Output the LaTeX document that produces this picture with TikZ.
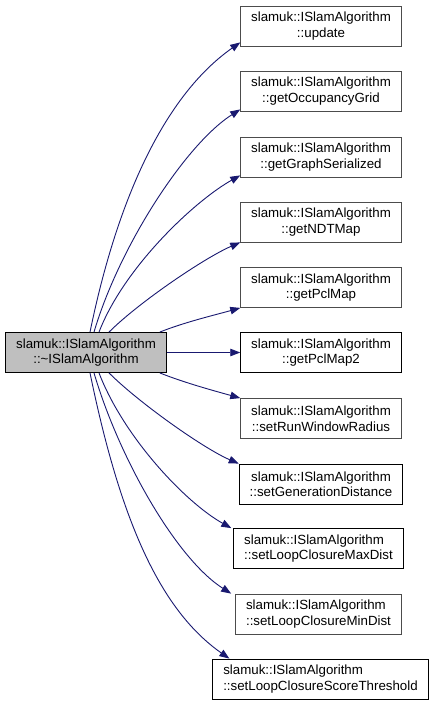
\documentclass[tikz,border=0pt]{standalone}
\usepackage{fontspec}
\setmainfont{Liberation Sans}
\usepackage{tikz}
\usetikzlibrary{arrows.meta}

\definecolor{edgeblue}{HTML}{191970}

\begin{document}
\begin{tikzpicture}[x=1pt,y=-1pt,
  member/.style={draw=black!70,fill=white,align=center,
    inner xsep=10.5pt,inner ysep=3pt,minimum height=40pt,line width=.8pt,
    font=\fontsize{13.3}{15.5}\selectfont},
  linked/.style={member,draw=black},
  current/.style={member,draw=black,fill=black!25},
  call/.style={-{Triangle[length=10pt,width=7.5pt]},draw=edgeblue,
    line width=.9pt}
]
\useasboundingbox (0,0) rectangle (432,705);

% The destructor and the members it calls.
\node[current] (dtor) at (86,352.5) {slamuk::ISlamAlgorithm\\::\textasciitilde ISlamAlgorithm};
\node[member] (update) at (321,26) {slamuk::ISlamAlgorithm\\::update};
\node[member] (occgrid) at (321,91) {slamuk::ISlamAlgorithm\\::getOccupancyGrid};
\node[member] (graphser) at (321,157) {slamuk::ISlamAlgorithm\\::getGraphSerialized};
\node[member] (ndtmap) at (321,222) {slamuk::ISlamAlgorithm\\::getNDTMap};
\node[member] (pclmap) at (321,287.5) {slamuk::ISlamAlgorithm\\::getPclMap};
\node[linked] (pclmap2) at (321,352.5) {slamuk::ISlamAlgorithm\\::getPclMap2};
\node[member] (runradius) at (321,418.5) {slamuk::ISlamAlgorithm\\::setRunWindowRadius};
\node[linked] (gendist) at (321,484) {slamuk::ISlamAlgorithm\\::setGenerationDistance};
\node[linked,align=left] (maxdist) at (318.5,548.5) {slamuk::ISlamAlgorithm\\::setLoopClosureMaxDist};
\node[member,align=left] (mindist) at (318.5,614) {slamuk::ISlamAlgorithm\\::setLoopClosureMinDist};
\node[linked,align=left] (scorethr) at (320.5,679) {slamuk::ISlamAlgorithm\\::setLoopClosureScoreThreshold};

% Calls leaving the top of the destructor box.
\draw[call] ([xshift=4pt]dtor.north) .. controls +(30,-146) and +(-70,49) .. ([yshift=4pt]update.south west);
\draw[call] ([xshift=8pt]dtor.north) .. controls +(25,-85) and +(-55,35) .. ([yshift=2pt]occgrid.south west);
\draw[call] ([xshift=13pt]dtor.north) .. controls +(25,-65) and +(-45,25) .. ([yshift=2pt]graphser.south west);
\draw[call] ([xshift=23pt]dtor.north) .. controls +(30,-30) and +(-35,15) .. (ndtmap.south west);
\draw[call] ([xshift=-7pt]dtor.north east) .. controls +(25,-10) and +(-25,7) .. (pclmap.south west);
\draw[call] (dtor.east) -- (pclmap2.west);

% Calls leaving the bottom, mirrored.
\draw[call] ([xshift=-7pt]dtor.south east) .. controls +(25,10) and +(-25,-7) .. (runradius.north west);
\draw[call] ([xshift=23pt]dtor.south) .. controls +(30,30) and +(-35,-15) .. (gendist.north west);
\draw[call] ([xshift=13pt]dtor.south) .. controls +(25,65) and +(-45,-25) .. ([xshift=-2pt]maxdist.north west);
\draw[call] ([xshift=8pt]dtor.south) .. controls +(25,85) and +(-55,-35) .. ([xshift=-4pt]mindist.north west);
\draw[call] ([xshift=4pt]dtor.south) .. controls +(30,146) and +(-70,-49) .. ([xshift=17pt]scorethr.north west);
\end{tikzpicture}
\end{document}
